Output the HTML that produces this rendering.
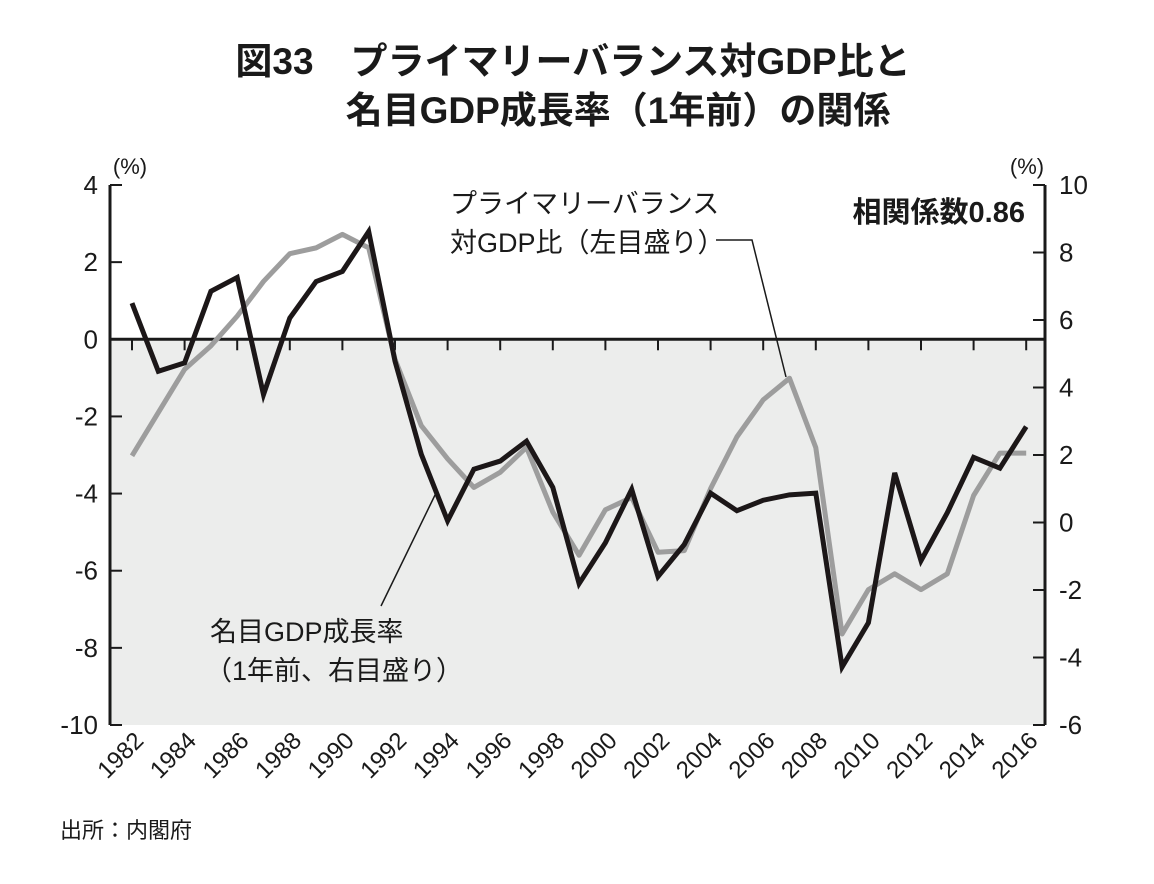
<!DOCTYPE html>
<html><head><meta charset="utf-8"><style>
body{margin:0;background:#fff;}
svg text{font-family:"Liberation Sans","Noto Sans CJK JP",sans-serif;}
</style></head><body>
<svg width="1154" height="879" viewBox="0 0 1154 879" xmlns="http://www.w3.org/2000/svg">
<g id="g"></g>
</svg>
<script>
const years=[1982,1983,1984,1985,1986,1987,1988,1989,1990,1991,1992,1993,1994,1995,1996,1997,1998,1999,2000,2001,2002,2003,2004,2005,2006,2007,2008,2009,2010,2011,2012,2013,2014,2015,2016];
const pbRatio=[-3.02,-1.9,-0.78,-0.17,0.6,1.5,2.22,2.37,2.72,2.37,-0.52,-2.24,-3.1,-3.84,-3.45,-2.8,-4.48,-5.6,-4.42,-4.1,-5.52,-5.48,-3.87,-2.53,-1.57,-1.01,-2.81,-7.64,-6.49,-6.08,-6.49,-6.08,-4.05,-2.95,-2.95];
const gdpGrowth=[6.5,4.48,4.73,6.85,7.26,3.79,6.06,7.14,7.44,8.62,4.78,2.02,0.05,1.58,1.82,2.41,1.04,-1.81,-0.6,0.98,-1.6,-0.65,0.87,0.35,0.66,0.82,0.87,-4.28,-2.97,1.47,-1.13,0.29,1.93,1.61,2.84];
const leftTicks=[4,2,0,-2,-4,-6,-8,-10];
const rightTicks=[10,8,6,4,2,0,-2,-4,-6];
const xTicks=[1982,1984,1986,1988,1990,1992,1994,1996,1998,2000,2002,2004,2006,2008,2010,2012,2014,2016];

const L=110,R=1045,T=185,B=725;
const x=y=>132+(y-1982)*26.3;
const yl=v=>T+(4-v)*(B-T)/14;
const yr=v=>T+(10-v)*(B-T)/16;
const NS="http://www.w3.org/2000/svg";
const g=document.getElementById('g');
function el(tag,attrs,txt){const e=document.createElementNS(NS,tag);for(const k in attrs)e.setAttribute(k,attrs[k]);if(txt!==undefined)e.textContent=txt;g.appendChild(e);return e;}
let e;
e=el('rect',{x:L,y:yl(0),width:R-L,height:B-yl(0),fill:'#ecedec'});


e=el('line',{x1:L,y1:yl(0),x2:R,y2:yl(0),stroke:'#1a1a1a','stroke-width':3});


xTicks.forEach(t=>{
 e=el('line',{x1:x(t),y1:yl(0),x2:x(t),y2:yl(0)+11,stroke:'#1a1a1a','stroke-width':2});
 
 
 e=el('text',{x:x(t)+13,y:B+17,'font-size':24,'text-anchor':'end',transform:`rotate(-45 ${x(t)+13} ${B+17})`,fill:'#1a1a1a'},String(t));
 
 
});
e=el('line',{x1:L,y1:T,x2:L,y2:B,stroke:'#1a1a1a','stroke-width':3});


e=el('line',{x1:R,y1:T,x2:R,y2:B,stroke:'#1a1a1a','stroke-width':3});


leftTicks.forEach(t=>{
 e=el('line',{x1:L,y1:yl(t),x2:L+12,y2:yl(t),stroke:'#1a1a1a','stroke-width':2});
 
 
 e=el('text',{x:L-12,y:yl(t)+9,'font-size':26,'text-anchor':'end',fill:'#1a1a1a'},String(t));
 
 
});
rightTicks.forEach(t=>{
 e=el('line',{x1:R-12,y1:yr(t),x2:R,y2:yr(t),stroke:'#1a1a1a','stroke-width':2});
 
 
 e=el('text',{x:R+14,y:yr(t)+9,'font-size':26,'text-anchor':'start',fill:'#1a1a1a'},String(t));
 
 
});
e=el('polyline',{points:years.map((y,i)=>x(y)+','+yl(pbRatio[i])).join(' '),fill:'none',stroke:'#9d9d9d','stroke-width':5,'stroke-linejoin':'round'});


e=el('polyline',{points:years.map((y,i)=>x(y)+','+yr(gdpGrowth[i])).join(' '),fill:'none',stroke:'#1c1718','stroke-width':5,'stroke-linejoin':'miter'});


e=el('polyline',{points:'716,240 752,240 786,377',fill:'none',stroke:'#1a1a1a','stroke-width':1.5});


e=el('line',{x1:381,y1:606,x2:436,y2:493,stroke:'#1a1a1a','stroke-width':1.5});


const texts=[
 ['title-line-1',573,74,37,'middle','bold','図33　プライマリーバランス対GDP比と'],
 ['title-line-2',618,123,37,'middle','bold','名目GDP成長率（1年前）の関係'],
 ['left-unit',130,174,22,'middle','normal','(%)'],
 ['right-unit',1027,174,22,'middle','normal','(%)'],
 ['pb-label-1',450,213,27,'start','normal','プライマリーバランス'],
 ['pb-label-2',450,252,27,'start','normal','対GDP比（左目盛り）'],
 ['correlation-label',1025,222,29,'end','bold','相関係数0.86'],
 ['gdp-label-1',210,641,27,'start','normal','名目GDP成長率'],
 ['gdp-label-2',205,680,27,'start','normal','（1年前、右目盛り）'],
 ['source-note',60,838,22,'start','normal','出所：内閣府']
];
texts.forEach(t=>{
 e=el('text',{x:t[1],y:t[2],'font-size':t[3],'text-anchor':t[4],'font-weight':t[5],fill:'#1a1a1a'},t[6]);
 
 
});
</script>
</body></html>
